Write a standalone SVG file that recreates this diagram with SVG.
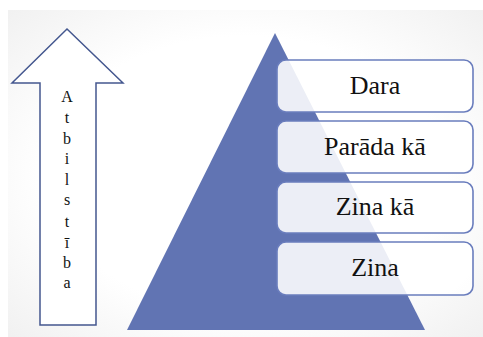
<svg xmlns="http://www.w3.org/2000/svg" width="483" height="337" viewBox="0 0 483 337">
<defs>
<radialGradient id="bg" cx="0.5" cy="0.5" r="0.7">
<stop offset="0.6" stop-color="#ffffff"/>
<stop offset="1" stop-color="#f1f1f1"/>
</radialGradient>
<style>
.box{fill:#ffffff;fill-opacity:0.88;stroke:#6a7dbd;stroke-width:1.6}
.lbl{font-family:"Liberation Serif",serif;font-size:26px;fill:#111111;text-anchor:middle}
.ch{font-family:"Liberation Serif",serif;font-size:16px;fill:#111111;text-anchor:middle}
</style>
</defs>
<rect x="8" y="10" width="475" height="327" fill="url(#bg)"/>
<g id="arrow">
<polygon points="67,29 123,83 96,83 96,325 40,325 40,83 12,83" fill="#ffffff" stroke="#44578f" stroke-width="1.5"/>
<text class="ch" x="67" y="102">A</text>
<text class="ch" x="67" y="123">t</text>
<text class="ch" x="67" y="144">b</text>
<text class="ch" x="67" y="164">i</text>
<text class="ch" x="67" y="185">l</text>
<text class="ch" x="67" y="205">s</text>
<text class="ch" x="67" y="227">t</text>
<text class="ch" x="67" y="248">ī</text>
<text class="ch" x="67" y="268">b</text>
<text class="ch" x="67" y="288">a</text>
</g>
<g id="pyramid">
<polygon points="275,33 425,330 127,330" fill="#6174b3"/>
</g>
<g id="n1">
<rect class="box" x="277" y="60" width="196" height="52" rx="9"/>
<text class="lbl" x="375" y="94">Dara</text>
</g>
<g id="n2">
<rect class="box" x="277" y="121" width="196" height="52" rx="9"/>
<text class="lbl" x="375" y="155">Parāda kā</text>
</g>
<g id="n3">
<rect class="box" x="277" y="182" width="196" height="51" rx="9"/>
<text class="lbl" x="375" y="215">Zina kā</text>
</g>
<g id="n4">
<rect class="box" x="277" y="242" width="196" height="53" rx="9"/>
<text class="lbl" x="375" y="276">Zina</text>
</g>
<g id="connectors"/>
</svg>
